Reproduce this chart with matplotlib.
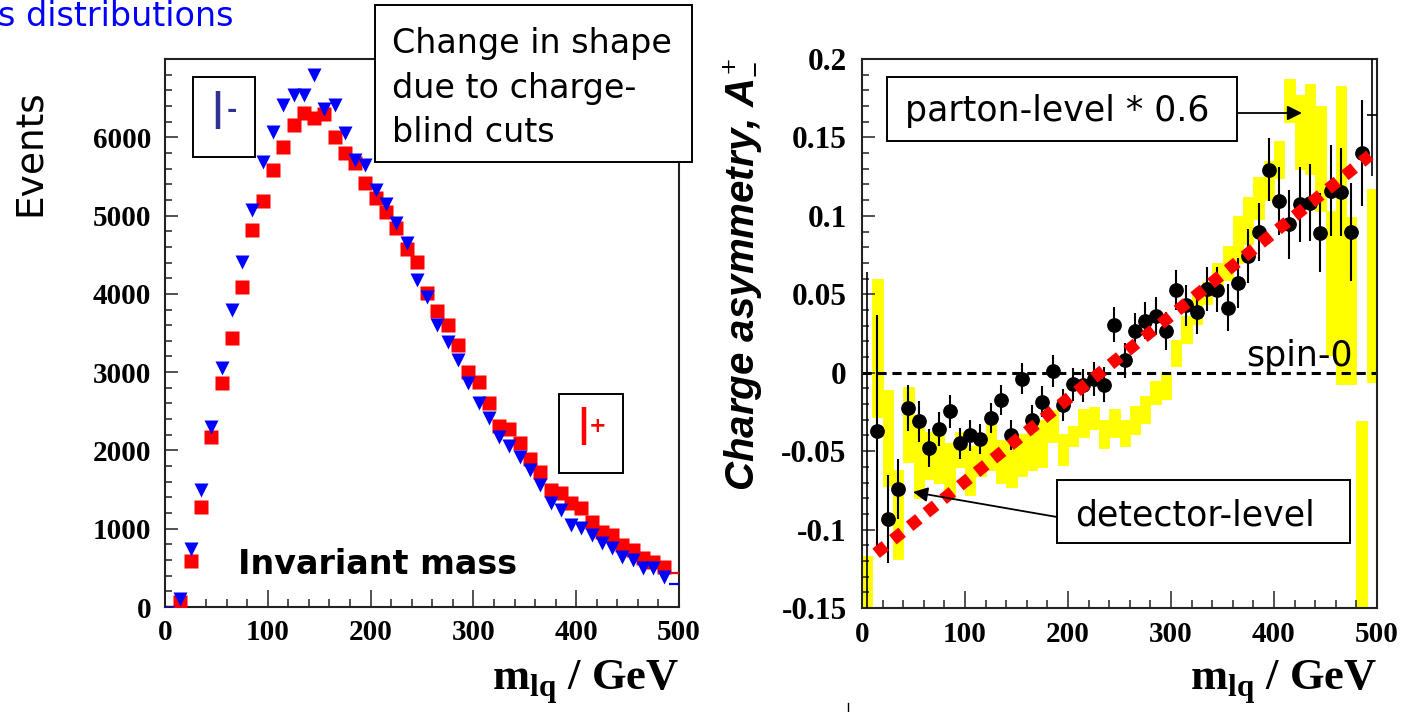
import matplotlib
matplotlib.use('Agg')
import matplotlib.pyplot as plt
import numpy as np
from matplotlib.patches import Rectangle
from matplotlib.lines import Line2D
from matplotlib.ticker import MultipleLocator, FixedLocator, FuncFormatter

plt.rcParams['axes.unicode_minus'] = False
plt.rcParams['font.family'] = 'Liberation Serif'
plt.rcParams['font.weight'] = 'bold'
plt.rcParams['mathtext.fontset'] = 'custom'
plt.rcParams['mathtext.rm'] = 'Liberation Serif:bold'
plt.rcParams['mathtext.bf'] = 'Liberation Serif:bold'
plt.rcParams['mathtext.it'] = 'Liberation Sans:bold:italic'

# ---------------- data ----------------
mass = [5, 15, 25, 35, 45, 55, 65, 75, 85, 95,
        105, 115, 125, 135, 145, 155, 165, 175, 185, 195,
        205, 215, 225, 235, 245, 255, 265, 275, 285, 295,
        305, 315, 325, 335, 345, 355, 365, 375, 385, 395,
        405, 415, 425, 435, 445, 455, 465, 475, 485, 495]

events_lplus = [0, 70, 590, 1280, 2175, 2860, 3440, 4090, 4815, 5190,
                5580, 5870, 6155, 6305, 6240, 6295, 6000, 5800, 5675, 5410,
                5220, 5050, 4835, 4570, 4410, 4005, 3785, 3600, 3350, 3005,
                2880, 2600, 2310, 2280, 2090, 1885, 1730, 1495, 1450, 1325,
                1260, 1090, 960, 920, 790, 730, 620, 580, 515, 430]

events_lminus = [0, 100, 740, 1490, 2300, 3050, 3790, 4410, 5070, 5690,
                 6070, 6410, 6540, 6540, 6795, 6355, 6410, 6050, 5710, 5650,
                 5325, 5145, 4905, 4650, 4175, 3955, 3600, 3380, 3150, 2865,
                 2600, 2410, 2175, 2055, 1910, 1750, 1560, 1325, 1240, 1045,
                 1005, 920, 815, 750, 645, 600, 495, 495, 385, 300]

asym_det = [-0.17, -0.037, -0.093, -0.074, -0.0226, -0.031, -0.048, -0.036, -0.0245, -0.045,
            -0.040, -0.0424, -0.029, -0.0173, -0.0396, -0.0037, -0.0303, -0.0186, 0.001, -0.0205,
            -0.0075, -0.008, -0.004, -0.0076, 0.0307, 0.0078, 0.0267, 0.0332, 0.036, 0.0267,
            0.0528, 0.043, 0.0385, 0.0531, 0.053, 0.0413, 0.0573, 0.0744, 0.0897, 0.1294,
            0.1095, 0.0946, 0.1074, 0.1085, 0.0893, 0.116, 0.1153, 0.0897, 0.140, 0.164]

asym_det_err = [0.234, 0.074, 0.028, 0.019, 0.0145, 0.013, 0.012, 0.011, 0.0105, 0.0098,
                0.0096, 0.0095, 0.0094, 0.0095, 0.0096, 0.0096, 0.0097, 0.0099, 0.010, 0.0102,
                0.0104, 0.0106, 0.0108, 0.011, 0.011, 0.0113, 0.0115, 0.0117, 0.012, 0.0122,
                0.0125, 0.013, 0.0135, 0.014, 0.0145, 0.015, 0.016, 0.017, 0.0185, 0.020,
                0.0215, 0.0222, 0.024, 0.0245, 0.025, 0.029, 0.028, 0.031, 0.034, 0.0385]

parton_hi = [-0.117, 0.0595, -0.011, -0.062, -0.009, -0.034, -0.038, -0.040, -0.045, -0.038,
             -0.047, -0.041, -0.032, -0.043, -0.045, -0.039, -0.035, -0.030, -0.024, -0.039,
             -0.034, -0.023, -0.022, -0.030, -0.023, -0.030, -0.0215, -0.015, -0.005, 0.000,
             0.021, 0.036, 0.050, 0.058, 0.070, 0.081, 0.100, 0.112, 0.125, 0.135,
             0.148, 0.187, 0.177, 0.184, 0.170, 0.103, 0.183, 0.099, -0.031, 0.117]

parton_lo = [-0.17, -0.028, -0.072, -0.1185, -0.057, -0.080, -0.068, -0.070, -0.079, -0.060,
             -0.078, -0.066, -0.062, -0.070, -0.073, -0.066, -0.062, -0.060, -0.044, -0.059,
             -0.047, -0.041, -0.036, -0.048, -0.041, -0.047, -0.039, -0.032, -0.020, -0.017,
             0.004, 0.019, 0.031, 0.044, 0.050, 0.059, 0.070, 0.082, 0.098, 0.110,
             0.124, 0.160, 0.130, 0.127, 0.103, 0.011, -0.007, -0.007, -0.17, -0.006]

fit_x = [13.7, 493.1]
fit_y = [-0.1151, 0.1386]

x_ticks = [0, 100, 200, 300, 400, 500]
left_y_ticks = [0, 1000, 2000, 3000, 4000, 5000, 6000]
right_y_ticks = [-0.15, -0.1, -0.05, 0, 0.05, 0.1, 0.15, 0.2]

# ---------------- figure ----------------
W, H = 1407, 712
fig = plt.figure(figsize=(W / 100, H / 100), dpi=100)
fig.patch.set_facecolor('white')


def fx(px):
    return px / W


def fy(py):
    return 1 - py / H


COMIC = 'DejaVu Sans'

ax1 = fig.add_axes([fx(165), fy(607), fx(679) - fx(165), fy(59) - fy(607)])
ax2 = fig.add_axes([fx(862), fy(608), fx(1377) - fx(862), fy(59) - fy(608)])

m = np.array(mass, dtype=float)
lp = np.array(events_lplus, dtype=float)
lm = np.array(events_lminus, dtype=float)

# left panel
ax1.plot(m[1:-1], lp[1:-1], 's', color='#ff0000', ms=9.6, mec='none', zorder=3)
ax1.plot(m[1:-1], lm[1:-1], 'v', color='#0000ff', ms=9.6, mec='none', zorder=4)
ax1.errorbar(m[[0, -1]], lp[[0, -1]], xerr=5, fmt='none', ecolor='#ff0000', elinewidth=1.6, zorder=3)
ax1.errorbar(m[[0, -1]], lm[[0, -1]], xerr=5, fmt='none', ecolor='#0000ff', elinewidth=1.6, zorder=4)
ax1.set_xlim(0, 500)
ax1.set_ylim(0, 7000)
ax1.xaxis.set_major_locator(FixedLocator(x_ticks))
ax1.xaxis.set_minor_locator(MultipleLocator(20))
ax1.yaxis.set_major_locator(FixedLocator(left_y_ticks))
ax1.yaxis.set_minor_locator(MultipleLocator(200))

# right panel
ph = np.array(parton_hi)
pl = np.array(parton_lo)
ax2.bar(m, ph - pl, bottom=pl, width=10, color='#ffff00', edgecolor='#ffff00',
        linewidth=0.6, zorder=1)
ax2.axhline(0, color='black', lw=2.2, dashes=(3.0, 1.9), zorder=2)
ad = np.array(asym_det)
ae = np.array(asym_det_err)
ax2.errorbar(m[1:-1], ad[1:-1], yerr=ae[1:-1], fmt='o', color='black', ms=9.6,
             elinewidth=1.5, capsize=0, zorder=4)
ax2.errorbar(m[[0, -1]], ad[[0, -1]], yerr=ae[[0, -1]], xerr=5, fmt='none',
             ecolor='black', elinewidth=1.2, capsize=0, zorder=4)
ax2.plot(fit_x, fit_y, color='#ff0000', lw=8.6, dashes=(1.0, 0.8),
         dash_capstyle='butt', zorder=5)
ax2.set_xlim(0, 500)
ax2.set_ylim(-0.15, 0.2)
ax2.xaxis.set_major_locator(FixedLocator(x_ticks))
ax2.xaxis.set_minor_locator(MultipleLocator(20))
ax2.yaxis.set_major_locator(FixedLocator(right_y_ticks))
ax2.yaxis.set_minor_locator(MultipleLocator(0.01))
ax2.yaxis.set_major_formatter(FuncFormatter(lambda v, p: '%g' % round(v, 3)))

for ax in (ax1, ax2):
    for s in ax.spines.values():
        s.set_linewidth(1.5)
        s.set_color('#222222')
    ax.tick_params(axis='both', which='both', direction='in', top=False, right=False,
                   labelsize=21, width=1.1, color='#222222')
    ax.tick_params(axis='x', which='major', length=12, pad=9)
    ax.tick_params(axis='x', which='minor', length=6)
    ax.tick_params(axis='y', which='major', length=9.5, pad=10)
    ax.tick_params(axis='y', which='minor', length=5)
ax2.tick_params(axis='y', which='major', labelsize=22.5, pad=11)

# axis titles
fig.text(fx(679), fy(690), r'$\mathrm{m}_{\mathrm{lq}}$ / GeV', ha='right', va='baseline',
         fontsize=32)
fig.text(fx(1377), fy(690), r'$\mathrm{m}_{\mathrm{lq}}$ / GeV', ha='right', va='baseline',
         fontsize=32)
fig.text(fx(30), fy(153), 'Events', rotation=90, ha='center', va='center',
         family=COMIC, weight='normal', fontsize=27)
fig.text(fx(742), fy(58), r'Charge asymmetry, $A^{+}_{-}$', rotation=90, ha='center', va='top',
         family='Liberation Sans', style='italic', weight='bold', fontsize=29)

# blue title (cropped in the original slide)
fig.text(fx(-2), fy(26), 's distributions', color='#0000ff', fontsize=24,
         family=COMIC, weight='normal', ha='left', va='baseline')


def box(x0, y0, x1, y1):
    r = Rectangle((fx(x0), fy(y1)), fx(x1) - fx(x0), fy(y0) - fy(y1),
                  transform=fig.transFigure, facecolor='white', edgecolor='black',
                  lw=1.4, zorder=5)
    fig.add_artist(r)


# "Change in shape" box
box(375, 5, 692, 162)
for txt, base in (('Change in shape', 53), ('due to charge-', 98), ('blind cuts', 142)):
    fig.text(fx(392), fy(base), txt, family=COMIC, weight='normal', fontsize=24,
             ha='left', va='baseline', zorder=6)

# l- and l+ boxes
box(193, 77, 255, 157)
fig.text(fx(217), fy(115), 'l', family=COMIC, weight='normal', fontsize=36,
         color='#2e3192', ha='center', va='center', zorder=6)
fig.text(fx(232), fy(110), '-', family=COMIC, weight='bold', fontsize=18,
         color='#2e3192', ha='center', va='center', zorder=6)
box(559, 394, 623, 473)
fig.text(fx(583), fy(431), 'l', family=COMIC, weight='normal', fontsize=36,
         color='#ff0000', ha='center', va='center', zorder=6)
fig.text(fx(598), fy(426), '+', family=COMIC, weight='bold', fontsize=15,
         color='#ff0000', ha='center', va='center', zorder=6)

fig.text(fx(378), fy(565), 'Invariant mass', family=COMIC, weight='bold', fontsize=24,
         ha='center', va='center', zorder=6)

# right panel annotations
box(887, 77, 1237, 141)
fig.text(fx(905), fy(121), 'parton-level * 0.6', family=COMIC, weight='normal', fontsize=25,
         ha='left', va='baseline', zorder=6)
box(1057, 480, 1350, 543)
fig.text(fx(1075), fy(525), 'detector-level', family=COMIC, weight='normal', fontsize=25,
         ha='left', va='baseline', zorder=6)
fig.text(fx(1246), fy(366), 'spin-0', family=COMIC, weight='normal', fontsize=25,
         ha='left', va='baseline', zorder=6)

arrow = dict(arrowstyle='-|>', color='black', lw=1.3, mutation_scale=22,
             shrinkA=0, shrinkB=0)
fig.add_artist(matplotlib.text.Annotation('', xy=(fx(1302), fy(113)), xytext=(fx(1238), fy(113)),
                                          xycoords='figure fraction', textcoords='figure fraction',
                                          arrowprops=arrow, zorder=6))
fig.add_artist(matplotlib.text.Annotation('', xy=(fx(913), fy(492)), xytext=(fx(1057), fy(517)),
                                          xycoords='figure fraction', textcoords='figure fraction',
                                          arrowprops=arrow, zorder=6))

fig.add_artist(Line2D([fx(848), fx(848)], [fy(703), fy(712)], transform=fig.transFigure,
                      color='black', lw=1))

fig.savefig('out.png', dpi=100, facecolor='white')
